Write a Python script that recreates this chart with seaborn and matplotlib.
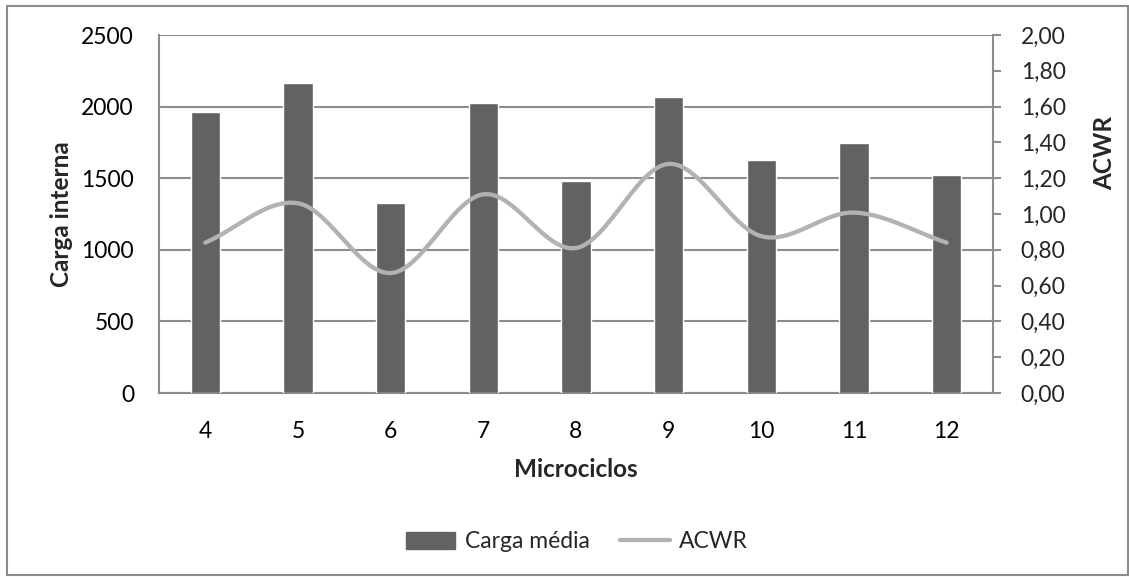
import numpy as np
import pandas as pd
import matplotlib
matplotlib.use("Agg")
import matplotlib.pyplot as plt
import seaborn as sns
from matplotlib.patches import Patch, Rectangle
from matplotlib.lines import Line2D
from matplotlib.ticker import FuncFormatter

microciclos = ["4", "5", "6", "7", "8", "9", "10", "11", "12"]
carga_media = [1962, 2165, 1325, 2025, 1480, 2065, 1628, 1744, 1520]
acwr = [0.84, 1.06, 0.67, 1.11, 0.81, 1.28, 0.876, 1.008, 0.84]

sns.set_theme(style="white")
plt.rcParams["font.family"] = ["Lato", "DejaVu Sans"]

BAR = "#626262"
LINE = "#b2b2b2"
GRID = "#8c8c8c"
FS = 16.5
FSB = 17.5

fig = plt.figure(figsize=(11.29, 5.77), dpi=100)
fig.patches.append(Rectangle((0.006, 0.003), 0.993, 0.986, transform=fig.transFigure,
                             fill=False, edgecolor=GRID, linewidth=1.5))
ax = fig.add_axes([159 / 1129, 1 - 393 / 577, 834 / 1129, 358 / 577])

df = pd.DataFrame({"Microciclos": microciclos, "Carga": carga_media})
sns.barplot(data=df, x="Microciclos", y="Carga", color=BAR, saturation=1,
            width=0.32, ax=ax, zorder=3)
ax.set_ylim(0, 2500)
ax.set_yticks(np.arange(0, 2501, 500))
ax.set_xlim(-0.5, len(microciclos) - 0.5)
ax.yaxis.grid(True, color=GRID, linewidth=1.5, zorder=0)
ax.set_axisbelow(True)
for s in ["top", "right"]:
    ax.spines[s].set_visible(False)
for s in ["left", "bottom"]:
    ax.spines[s].set_color(GRID)
    ax.spines[s].set_linewidth(1.5)
ax.tick_params(axis="both", length=0, labelsize=FS, colors="black")
ax.tick_params(axis="y", pad=18)
ax.tick_params(axis="x", pad=20)
ax.set_ylabel("Carga interna", fontsize=FSB, fontweight="bold", labelpad=6)
ax.set_xlabel("Microciclos", fontsize=FSB, fontweight="bold", labelpad=12)

# smooth line (Catmull-Rom, like Excel smoothed lines)
def catmull_rom(xv, yv, n=30):
    xv = np.asarray(xv, float)
    yv = np.asarray(yv, float)
    px = np.concatenate([[2 * xv[0] - xv[1]], xv, [2 * xv[-1] - xv[-2]]])
    py = np.concatenate([[2 * yv[0] - yv[1]], yv, [2 * yv[-1] - yv[-2]]])
    outx, outy = [], []
    for i in range(1, len(px) - 2):
        t = np.linspace(0, 1, n, endpoint=(i == len(px) - 3))
        for arr, out in ((px, outx), (py, outy)):
            p0, p1, p2, p3 = arr[i - 1], arr[i], arr[i + 1], arr[i + 2]
            out.extend(0.5 * ((2 * p1) + (-p0 + p2) * t + (2 * p0 - 5 * p1 + 4 * p2 - p3) * t ** 2
                              + (-p0 + 3 * p1 - 3 * p2 + p3) * t ** 3))
    return np.array(outx), np.array(outy)

ax2 = ax.twinx()
sx, sy = catmull_rom(np.arange(len(acwr)), acwr)
sns.lineplot(x=sx, y=sy, sort=False, estimator=None, color=LINE, linewidth=3.1,
             ax=ax2, solid_capstyle="round", zorder=4)
ax2.set_ylim(0, 2.0)
ax2.set_yticks(np.arange(0, 2.01, 0.2))
ax2.yaxis.set_major_formatter(FuncFormatter(lambda v, p: f"{v:.2f}".replace(".", ",")))
for s in ["top", "left", "bottom"]:
    ax2.spines[s].set_visible(False)
ax2.spines["right"].set_color(GRID)
ax2.spines["right"].set_linewidth(1.5)
ax2.tick_params(axis="y", length=6, width=1.5, color=GRID, labelsize=FS, pad=14)
ax2.set_ylabel("ACWR", fontsize=FSB, fontweight="bold", labelpad=20,
               y=0.67, ha="center")
ax2.grid(False)

handles = [Patch(facecolor=BAR, edgecolor=BAR),
           Line2D([0], [0], color=LINE, linewidth=3.1)]
fig.legend(handles, ["Carga média", "ACWR"], loc="center", bbox_to_anchor=(577 / 1129, 1 - 542 / 577),
           ncol=2, frameon=False, fontsize=FS, handlelength=2.15, handleheight=0.7,
           handletextpad=0.4, columnspacing=1.35)

fig.savefig("out.png", dpi=100)
